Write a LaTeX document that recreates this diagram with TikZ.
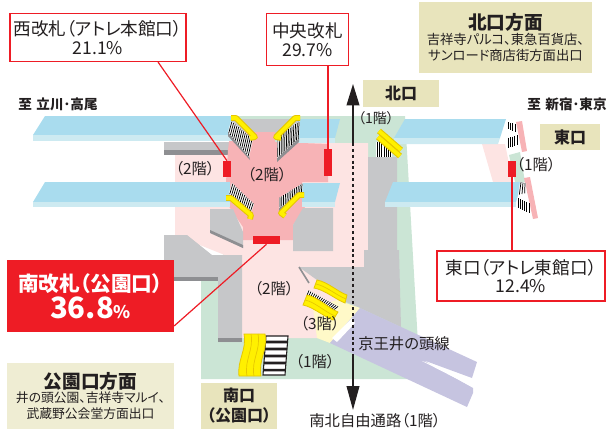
\documentclass[tikz,border=0pt]{standalone}
\usepackage{fontspec}
\setmainfont[RawFeature=+palt]{Noto Sans CJK JP}
\usetikzlibrary{calc,arrows.meta}
\definecolor{rd}{HTML}{EE1C25}
\definecolor{tanA}{HTML}{E8E4BC}
\definecolor{tanB}{HTML}{EFEDD3}
\definecolor{grn}{HTML}{CBE5D5}
\definecolor{lpink}{HTML}{FDE4E3}
\definecolor{mpink}{HTML}{F7B3B6}
\definecolor{blu}{HTML}{A9DCEE}
\definecolor{lblu}{HTML}{CDEAF1}
\definecolor{gry}{HTML}{C6C7C9}
\definecolor{dgry}{HTML}{8E8F92}
\definecolor{lav}{HTML}{C6C4E0}
\definecolor{lyel}{HTML}{FFF9C8}
\definecolor{yel}{HTML}{FFF000}
\definecolor{dyel}{HTML}{E6C700}
\definecolor{txt}{HTML}{231F20}
\tikzset{
 redbox/.style={draw=rd,line width=1.3pt,fill=white},
 tanbox/.style={fill=tanA},
 paleTan/.style={fill=tanB},
 lbl/.style={text=txt,font=\fontsize{11.5}{13}\selectfont,inner sep=0pt},
 sm/.style={text=txt,font=\fontsize{8.6}{11}\selectfont,inner sep=0pt},
 link/.style={draw=rd,line width=0.9pt},
 gate/.style={fill=rd},
 esc/.style={line width=4.4pt,draw=dyel,line join=round},
 escin/.style={line width=2.8pt,draw=yel,line join=round},
}
% hatched stair: corners A,B,C,D, stripes from A-D towards B-C
\newcommand{\stairs}[5]{%
 \fill[white] #1--#2--#3--#4--cycle;
 \foreach \t in {1,...,#5}{
  \pgfmathsetmacro{\u}{(\t-0.5)/#5}
  \draw[black,line width=0.55pt] ($#1!\u!#2$) -- ($#4!\u!#3$);
 }}
\newcommand{\escal}[1]{\draw[esc] #1; \draw[escin] #1;}
\begin{document}
\begin{tikzpicture}[x=0.75pt,y=-0.75pt]
\useasboundingbox (0,0) rectangle (614,429);
% ground
\fill[grn] (230,116)--(405,116)--(420,379)--(201,379)--(201,270)--(230,250)--cycle;
\fill[lpink] (175,143)--(368,143)--(368,270)--(318,338)--(242,338)--(242,262)--(175,235)--cycle;
\fill[lpink] (482,144)--(505,144)--(513,182)--(493,182)--cycle;
\fill[grn] (509,155)--(520,152)--(525,182)--(515,182)--cycle;
% greys
\fill[gry] (232,119)--(300,119)--(296,135)--(232,135)--cycle;
\fill[gry] (164,142)--(231,142)--(231,150)--(164,150)--cycle;
\fill[dgry] (164,150)--(231,150)--(231,155)--(164,155)--cycle;
\fill[gry] (368,157)--(397,157)--(397,250)--(399,250)--(401,327)--(360,308)--(337,298)--(317,280)--(299,267)--(364,267)--(364,250)--(368,250)--cycle;
\draw[dgry,line width=1.2pt] (299,267)--(309,283);
% mid pink
\fill[mpink] (230,133)--(248,132)--(275,132)--(275,142)--(328,144)--(328,182)--(302,182)--(305,207)--(293,225)--(293,240)--(243,240)--(243,227)--(228,205)--(226,182)--(228,150)--cycle;
% platforms
\fill[blu] (33,135)--(45,116)--(232,116)--(232,135)--cycle;
\fill[lblu] (33,135)--(232,135)--(232,141)--(33,141)--cycle;
\fill[blu] (298,119)--(340,119)--(335,138)--(298,138)--cycle;
\fill[lblu] (298,138)--(335,138)--(335,143)--(298,143)--cycle;
\fill[blu] (33,202)--(45,182)--(230,182)--(230,202)--cycle;
\fill[lblu] (33,202)--(230,202)--(230,207)--(33,207)--cycle;
\fill[blu] (302,183)--(340,183)--(335,202)--(302,202)--cycle;
\fill[lblu] (302,202)--(335,202)--(335,207)--(302,207)--cycle;
\fill[blu] (405,119)--(506,119)--(500,138)--(394,138)--cycle;
\fill[lblu] (394,138)--(500,138)--(498,144)--(394,144)--cycle;
\fill[blu] (393,182)--(522,182)--(516,202)--(385,202)--cycle;
\fill[lblu] (385,202)--(516,202)--(516,207)--(385,207)--cycle;
% lower greys
\fill[gry] (210,209)--(233,209)--(243,232)--(243,248)--(210,232)--cycle;
\fill[dgry] (210,230)--(243,245)--(243,248)--(210,233)--cycle;
\fill[gry] (303,208)--(333,208)--(333,251)--(293,251)--(293,225)--cycle;
\fill[gry] (164,235)--(187,235)--(212,255)--(242,255)--(242,342)--(218,342)--(218,280)--(164,280)--cycle;
\fill[dgry] (164,277)--(218,277)--(218,281)--(164,281)--cycle;
\fill[dgry] (218,338)--(242,338)--(242,342)--(218,342)--cycle;
% light yellow and keio
\fill[lyel] (313,308)--(337,300)--(360,308)--(330,343)--(317,338)--cycle;
\fill[lav] (360,308)--(477,362)--(472,378)--(423,360)--(473,388)--(473,393)--(467,407)--(330,343)--cycle;
\fill[white] (332,338)--(352,318)--(355,323)--(337,342)--cycle;
\fill[white] (422,361)--(470,378)--(473,387)--cycle;
% pink end strips
\fill[mpink] (516,122)--(522,121)--(527,151)--(522,152)--cycle;
\fill[mpink] (524,178)--(530,177)--(538,218)--(533,219)--cycle;
% stair shadows
\fill[dgry] (228,132)--(249,156)--(250,160)--(228,136)--cycle;
\fill[dgry] (277,158)--(299,138)--(299,142)--(277,162)--cycle;
\fill[dgry] (279,208)--(302,193)--(302,195)--(279,211)--cycle;
% stairs
\stairs{(231,121)}{(253,139)}{(249,157)}{(228,132)}{13}
\stairs{(300,121)}{(277,137)}{(277,158)}{(299,138)}{13}
\stairs{(232,183)}{(254,204)}{(250,216)}{(229,193)}{13}
\stairs{(303,183)}{(279,198)}{(279,208)}{(302,194)}{13}
\stairs{(376,142)}{(392,142)}{(392,157)}{(376,157)}{7}
\stairs{(507,122)}{(516,124)}{(516,132)}{(507,129)}{4}
\stairs{(507,138)}{(518,135)}{(518,145)}{(507,148)}{5}
\stairs{(520,182)}{(526,183)}{(526,193)}{(518,195)}{3}
\stairs{(517,198)}{(530,203)}{(530,213)}{(517,207)}{6}
\stairs{(308,290)}{(339,307)}{(335,310)}{(306,295)}{16}
% stair with horizontal treads
\fill[white] (266,336)--(288,336)--(285,375)--(263,375)--cycle;
\foreach \t in {0.12,0.3,0.48,0.66,0.84}{
 \fill[txt] ($(266,336)!\t!(263,375)$) -- ($(288,336)!\t!(285,375)$) -- ($(288,336)!\t+0.07!(285,375)$) -- ($(266,336)!\t+0.07!(263,375)$) --cycle;}
\draw[txt,line width=0.8pt] (266,336)--(288,336)--(285,375)--(263,375)--cycle;
% escalators
\escal{(231,118)--(236,118)--(255,137)--(250,138)}
\escal{(300,118)--(295,118)--(276,137)--(281,138)}
\escal{(226,198)--(231,198)--(251,215)--(250,219)}
\escal{(304,195)--(299,195)--(281,213)--(285,216)}
\escal{(379,131)--(401,150)}
\escal{(378,137)--(400,156)}
\filldraw[draw=dyel,fill=yel,line width=0.6pt] (317,280) .. controls (328,282) and (338,292) .. (347,295)--(345,303) .. controls (335,299) and (325,290) .. (314,288)--cycle;
\filldraw[draw=dyel,fill=yel,line width=0.6pt] (307,295) .. controls (318,297) and (328,308) .. (338,312)--(333,320) .. controls (323,316) and (313,307) .. (303,305)--cycle;
\draw[dyel,line width=0.5pt] (316,284) .. controls (326,286) and (336,295) .. (346,299) (305,300) .. controls (315,302) and (325,312) .. (335,316);
\filldraw[draw=dyel,fill=yel,line width=0.6pt] (244,334)--(265,334) .. controls (268,350) and (258,360) .. (261,376)--(239,376) .. controls (237,360) and (247,350) .. (244,334)--cycle;
\draw[dyel,line width=0.5pt] (251,334) .. controls (254,350) and (244,360) .. (247,376) (258,334) .. controls (261,350) and (251,360) .. (254,376);
% arrow axis
\coordinate (nt) at (353,84); \coordinate (nb) at (353,143);
\coordinate (st) at (353,355); \coordinate (sb) at (353,410);
\draw[txt,line width=1.3pt,-{Triangle[length=16pt,width=9.5pt]}] (nb)--(nt);
\draw[txt,line width=1.8pt,dash pattern=on 2.2pt off 2.2pt] (nb)--(st);
\draw[txt,line width=1.3pt,-{Triangle[length=18pt,width=9.5pt]}] (st)--(sb);
% gates
\node[gate,minimum width=6pt,minimum height=12pt,inner sep=0pt] (gw) at (227,169) {};
\node[gate,minimum width=6pt,minimum height=20.25pt,inner sep=0pt] (gc) at (328,162.5) {};
\node[gate,minimum width=20.25pt,minimum height=6pt,inner sep=0pt] (gs) at (266.5,240) {};
\node[gate,minimum width=6pt,minimum height=12pt,inner sep=0pt] (ge) at (512,169) {};
% boxes
\node[redbox,minimum width=132.5pt,minimum height=36pt,inner sep=0pt,align=center,text=txt,font=\fontsize{13.2}{15}\selectfont] (bw) at (98,37.5) {西改札（アトレ本館口）\\[-1pt]21.1\%};
\node[redbox,minimum width=61.5pt,minimum height=39pt,inner sep=0pt,align=center,text=txt,font=\fontsize{13.2}{15}\selectfont] (bc) at (307.5,39.5) {中央改札\\[-1pt]29.7\%};
\node[redbox,minimum width=125.5pt,minimum height=37pt,inner sep=0pt,align=center,text=txt,font=\fontsize{13.2}{15}\selectfont] (be) at (521,276) {東口（アトレ東館口）\\[-1pt]12.4\%};
\node[fill=rd,minimum width=125pt,minimum height=54pt,inner sep=0pt,align=center,text=white,font=\bfseries\fontsize{15.5}{21}\selectfont] (bs) at (90.5,296) {南改札（公園口）\\[-1pt]{\fontsize{22}{22}\selectfont\bfseries 36.8{\fontsize{13}{13}\selectfont\%}}};
\draw[link] (158,62)--(gw.north);
\draw[link] (gc.north)--(gc.north|-bc.south);
\draw[link] (bs.east|-0,326)--(gs.south);
\draw[link] (ge.south)--(ge.south|-be.north);
% tan boxes
\node[tanbox,minimum width=130pt,minimum height=53pt,inner sep=0pt,align=center,text=txt,font=\fontsize{10}{12}\selectfont] (bn) at (505.5,37.5) {{\bfseries\fontsize{14}{17}\selectfont 北口方面}\\[-1pt]吉祥寺パルコ、東急百貨店、\\サンロード商店街方面出口};
\node[paleTan,minimum width=125pt,minimum height=49.5pt,inner sep=0pt,align=center,text=txt,font=\fontsize{9.6}{11.5}\selectfont] (bp) at (90.5,396) {{\bfseries\fontsize{14}{17}\selectfont 公園口方面}\\[-1pt]井の頭公園、吉祥寺マルイ、\\武蔵野公会堂方面出口};
\node[tanbox,minimum width=57pt,minimum height=34.5pt,inner sep=0pt,align=center,text=txt,font=\bfseries\fontsize{12}{15}\selectfont] (bsg) at (239,406) {南口\\（公園口）};
\node[tanbox,minimum width=57pt,minimum height=20pt,inner sep=0pt,text=txt,font=\bfseries\fontsize{12}{14}\selectfont] (bng) at (401,93.5) {北口};
\node[tanbox,minimum width=45pt,minimum height=19.5pt,inner sep=0pt,text=txt,font=\bfseries\fontsize{12}{14}\selectfont] (beg) at (570,137) {東口};
% labels
\node[sm,font=\bfseries\fontsize{10.2}{11}\selectfont] (t1) at (58,104) {至\,\,立川･高尾};
\node[sm,font=\bfseries\fontsize{10.2}{11}\selectfont] (t2) at (567,104) {至\,\,新宿･東京};
\node[lbl,font=\fontsize{10.5}{12}\selectfont] (f1) at (376,118) {（1階）};
\node[lbl] (f2) at (195,169) {（2階）};
\node[lbl] (f3) at (267,175) {（2階）};
\node[lbl] (f4) at (536,165) {（1階）};
\node[lbl] (f5) at (274,289) {（2階）};
\node[lbl] (f6) at (320,324) {（3階）};
\node[lbl] (f7) at (315,362) {（1階）};
\node[lbl] (k) at (404,344) {京王井の頭線};
\node[lbl] (nn) at (375,421) {南北自由通路（1階）};
\end{tikzpicture}
\end{document}
